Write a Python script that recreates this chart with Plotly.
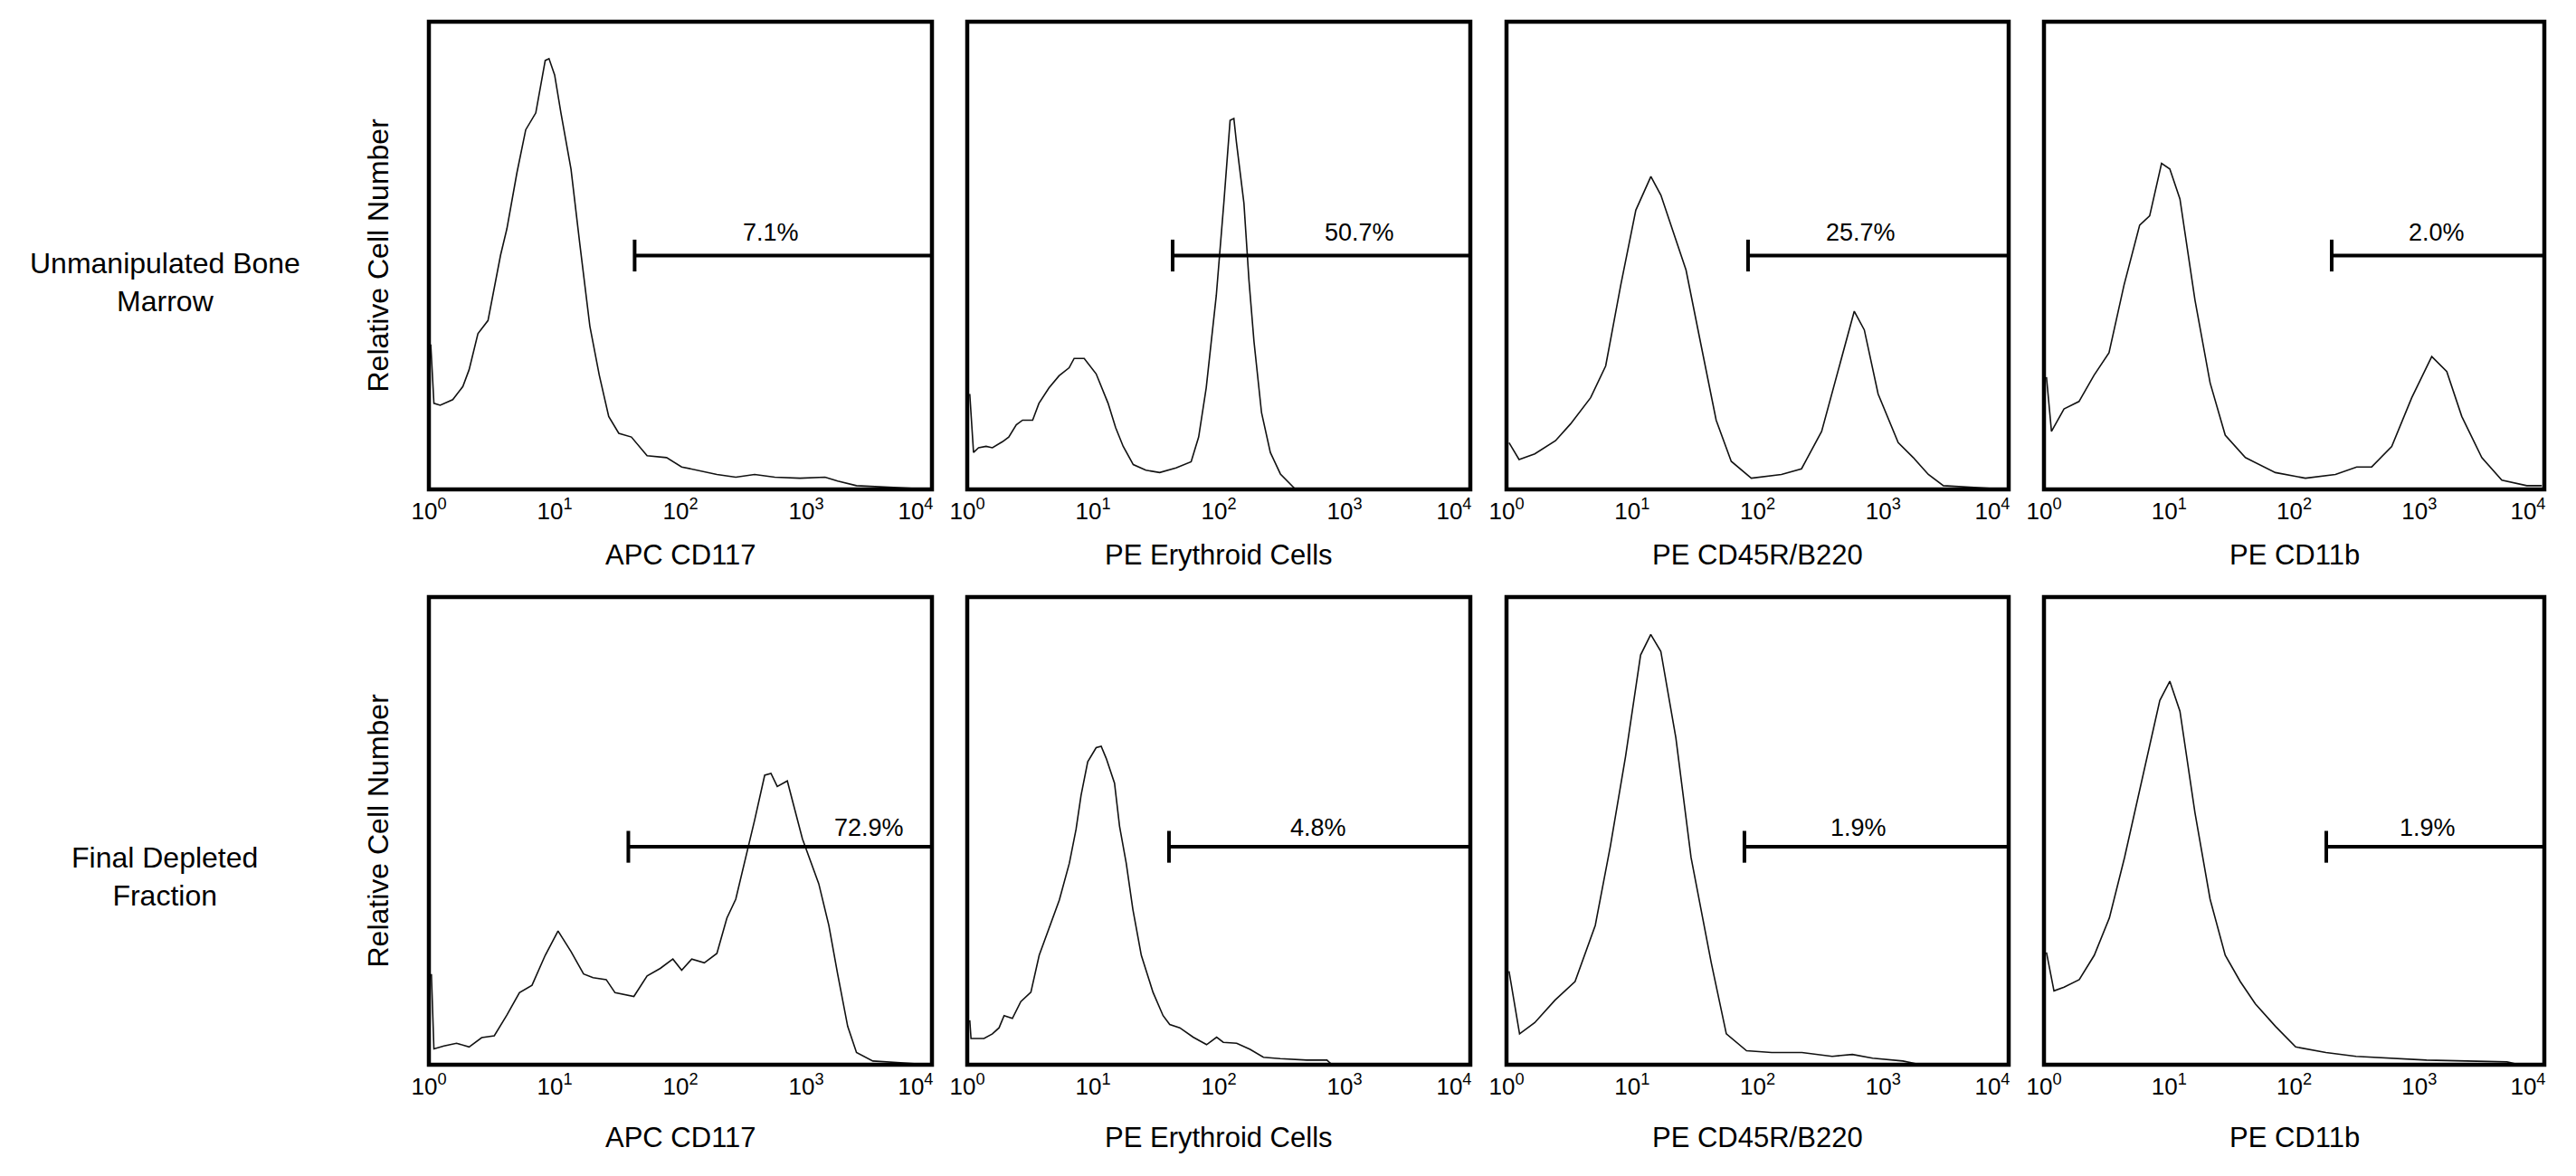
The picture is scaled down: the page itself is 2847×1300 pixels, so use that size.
import plotly.graph_objects as go

# ---------------- data ----------------
markers = ["APC CD117", "PE Erythroid Cells", "PE CD45R/B220", "PE CD11b"]
row_labels = ["Unmanipulated Bone<br>Marrow", "Final Depleted<br>Fraction"]
y_title = "Relative Cell Number"
tick_vals = [1, 10, 100, 1000, 10000]
tick_text = ["10<sup>0</sup>", "10<sup>1</sup>", "10<sup>2</sup>", "10<sup>3</sup>",
             "10<sup>4</sup>" + "\u00a0" * 5]

# Unmanipulated bone marrow: log10 fluorescence intensity and relative cell number
bm_cd117_log = [0.015, 0.04, 0.09, 0.19, 0.27, 0.32, 0.39, 0.47, 0.57, 0.62, 0.70, 0.77, 0.85, 0.925, 0.955,
                1.0, 1.05, 1.13, 1.20, 1.28, 1.355, 1.43, 1.51, 1.61, 1.735, 1.89, 2.01, 2.14, 2.29, 2.44,
                2.59, 2.75, 2.95, 3.15, 3.25, 3.40, 3.66, 4.0]
bm_cd117_cnt = [0.31, 0.184, 0.18, 0.192, 0.22, 0.256, 0.333, 0.361, 0.501, 0.557, 0.677, 0.769, 0.805, 0.917, 0.921,
                0.886, 0.805, 0.685, 0.525, 0.349, 0.244, 0.156, 0.12, 0.112, 0.072, 0.068, 0.048, 0.04, 0.032, 0.026,
                0.032, 0.026, 0.024, 0.026, 0.018, 0.008, 0.004, 0.0]

bm_ery_log = [0.02, 0.05, 0.09, 0.15, 0.20, 0.28, 0.33, 0.39, 0.44, 0.52, 0.57, 0.65, 0.73, 0.81, 0.85, 0.93,
              1.025, 1.12, 1.18, 1.24, 1.32, 1.42, 1.53, 1.66, 1.78, 1.84, 1.90, 1.98, 2.04, 2.09, 2.12, 2.14,
              2.20, 2.24, 2.28, 2.34, 2.41, 2.49, 2.60, 4.0]
bm_ery_cnt = [0.204, 0.079, 0.089, 0.092, 0.089, 0.102, 0.112, 0.138, 0.148, 0.148, 0.184, 0.217, 0.243, 0.26,
              0.28, 0.28, 0.247, 0.184, 0.132, 0.092, 0.053, 0.041, 0.036, 0.046, 0.059, 0.112, 0.217, 0.414,
              0.612, 0.789, 0.793, 0.743, 0.612, 0.447, 0.316, 0.164, 0.079, 0.033, 0.003, 0.0]

bm_b220_log = [0.02, 0.10, 0.225, 0.39, 0.51, 0.67, 0.79, 0.91, 1.03, 1.15, 1.23, 1.43, 1.55, 1.67, 1.79, 1.95,
               2.19, 2.35, 2.51, 2.675, 2.77, 2.85, 2.96, 3.12, 3.24, 3.36, 3.48, 4.0]
bm_b220_cnt = [0.10, 0.064, 0.076, 0.104, 0.14, 0.196, 0.264, 0.437, 0.597, 0.669, 0.629, 0.469, 0.308, 0.148,
               0.06, 0.024, 0.032, 0.044, 0.124, 0.284, 0.381, 0.341, 0.204, 0.10, 0.068, 0.032, 0.008, 0.0]

bm_cd11b_log = [0.02, 0.06, 0.16, 0.28, 0.40, 0.52, 0.64, 0.765, 0.845, 0.94, 1.006, 1.087, 1.207, 1.328, 1.449,
                1.61, 1.85, 2.09, 2.33, 2.50, 2.62, 2.78, 2.94, 3.10, 3.22, 3.34, 3.50, 3.66, 3.86, 3.98]
bm_cd11b_cnt = [0.24, 0.124, 0.172, 0.188, 0.244, 0.292, 0.437, 0.565, 0.585, 0.697, 0.685, 0.621, 0.405, 0.228,
                0.116, 0.068, 0.036, 0.024, 0.032, 0.048, 0.048, 0.092, 0.196, 0.284, 0.252, 0.156, 0.068, 0.02,
                0.008, 0.008]

# Final depleted fraction
fd_cd117_log = [0.02, 0.04, 0.12, 0.22, 0.32, 0.42, 0.52, 0.62, 0.72, 0.82, 0.925, 1.027, 1.13, 1.23, 1.305, 1.41,
                1.48, 1.63, 1.735, 1.84, 1.94, 2.01, 2.09, 2.19, 2.29, 2.37, 2.44, 2.52, 2.59, 2.67, 2.72, 2.77,
                2.85, 2.90, 2.97, 3.10, 3.18, 3.25, 3.33, 3.40, 3.53, 4.0]
fd_cd117_cnt = [0.194, 0.034, 0.04, 0.046, 0.038, 0.058, 0.062, 0.106, 0.154, 0.17, 0.234, 0.286, 0.242, 0.194,
                0.186, 0.182, 0.154, 0.146, 0.19, 0.206, 0.226, 0.202, 0.226, 0.218, 0.238, 0.314, 0.354, 0.443,
                0.523, 0.619, 0.623, 0.595, 0.607, 0.555, 0.483, 0.387, 0.298, 0.194, 0.082, 0.026, 0.008, 0.0]

fd_ery_log = [0.02, 0.03, 0.066, 0.133, 0.20, 0.253, 0.293, 0.359, 0.426, 0.506, 0.572, 0.652, 0.732, 0.812,
              0.865, 0.905, 0.958, 1.025, 1.065, 1.105, 1.171, 1.211, 1.264, 1.317, 1.384, 1.477, 1.557, 1.61,
              1.69, 1.796, 1.903, 1.983, 2.036, 2.142, 2.249, 2.355, 2.488, 2.70, 2.86, 2.90, 4.0]
fd_ery_cnt = [0.095, 0.056, 0.056, 0.056, 0.066, 0.079, 0.105, 0.099, 0.135, 0.155, 0.234, 0.293, 0.352, 0.431,
              0.503, 0.576, 0.648, 0.678, 0.681, 0.655, 0.602, 0.51, 0.431, 0.332, 0.234, 0.155, 0.105, 0.086,
              0.079, 0.059, 0.043, 0.059, 0.048, 0.046, 0.033, 0.016, 0.013, 0.01, 0.01, 0.0, 0.0]

fd_b220_log = [0.02, 0.104, 0.225, 0.386, 0.546, 0.707, 0.827, 0.948, 1.068, 1.149, 1.229, 1.349, 1.47, 1.631,
               1.751, 1.912, 2.112, 2.353, 2.594, 2.755, 2.916, 3.157, 3.3, 4.0]
fd_b220_cnt = [0.2, 0.066, 0.09, 0.138, 0.178, 0.298, 0.467, 0.659, 0.876, 0.92, 0.884, 0.699, 0.443, 0.218,
               0.066, 0.03, 0.026, 0.026, 0.018, 0.022, 0.014, 0.008, 0.0, 0.0]

fd_cd11b_log = [0.02, 0.08, 0.161, 0.282, 0.402, 0.523, 0.644, 0.805, 0.926, 1.006, 1.087, 1.207, 1.328, 1.449,
                1.569, 1.69, 1.851, 2.012, 2.254, 2.495, 2.736, 3.058, 3.38, 3.702, 3.8, 4.0]
fd_cd11b_cnt = [0.24, 0.158, 0.166, 0.182, 0.234, 0.314, 0.443, 0.635, 0.779, 0.82, 0.756, 0.539, 0.354, 0.234,
                0.178, 0.13, 0.082, 0.038, 0.026, 0.018, 0.014, 0.01, 0.008, 0.006, 0.0, 0.0]

# gates: lower threshold (log10 intensity) and percent positive
gate_bm_log = [1.636, 1.633, 1.924, 2.30]
gate_fd_log = [1.586, 1.604, 1.895, 2.257]
pct_bm = ["7.1%", "50.7%", "25.7%", "2.0%"]
pct_fd = ["72.9%", "4.8%", "1.9%", "1.9%"]

# ---------------- layout constants ----------------
W, H = 2847, 1300
FONT = "Liberation Sans, Arial, Helvetica, sans-serif"
x_px = [(474, 1030), (1069, 1625), (1665, 2220), (2259, 2812)]
y_px = [(24, 541), (660, 1177)]  # top, bottom in pixels from top
gate_y = [0.50, 0.466]
label_y = [0.549, 0.507]
label_x = [[2.72, 3.12, 2.82, 3.14], [3.50, 2.79, 2.80, 3.07]]
row_label_y = [312, 969]
title_shift = [-72, -80]

series = [
    [(bm_cd117_log, bm_cd117_cnt), (bm_ery_log, bm_ery_cnt), (bm_b220_log, bm_b220_cnt), (bm_cd11b_log, bm_cd11b_cnt)],
    [(fd_cd117_log, fd_cd117_cnt), (fd_ery_log, fd_ery_cnt), (fd_b220_log, fd_b220_cnt), (fd_cd11b_log, fd_cd11b_cnt)],
]
gates = [gate_bm_log, gate_fd_log]
pcts = [pct_bm, pct_fd]

fig = go.Figure()
layout = dict(
    width=W, height=H, autosize=False, margin=dict(l=0, r=0, t=0, b=0, pad=0, autoexpand=False),
    paper_bgcolor="white", plot_bgcolor="white", showlegend=False,
    font=dict(family=FONT, color="black"),
)
annotations = []
shapes = []

for r in range(2):
    for c in range(4):
        i = r * 4 + c + 1
        xa = "x" if i == 1 else f"x{i}"
        ya = "y" if i == 1 else f"y{i}"
        logs, cnts = series[r][c]
        fig.add_trace(go.Scatter(
            x=[10 ** v for v in logs], y=cnts, mode="lines",
            line=dict(color="#111111", width=1.6, shape="linear"),
            xaxis=xa, yaxis=ya, hoverinfo="skip"))
        g = 10 ** gates[r][c]
        gy = gate_y[r]
        fig.add_trace(go.Scatter(
            x=[g, g, None, g, 10 ** 4], y=[gy - 0.034, gy + 0.034, None, gy, gy], mode="lines",
            line=dict(color="black", width=4), xaxis=xa, yaxis=ya, hoverinfo="skip"))

        x0, x1 = x_px[c]
        yt, yb = y_px[r]
        layout["xaxis" if i == 1 else f"xaxis{i}"] = dict(
            domain=[x0 / W, x1 / W], anchor=ya, type="log", range=[0, 4], automargin=False,
            tickvals=tick_vals, ticktext=tick_text, ticks="", showgrid=False, zeroline=False,
            showline=False, tickfont=dict(family=FONT, size=26, color="black"),
            ticklabelstandoff=6, ticklabeloverflow="allow", fixedrange=True)
        layout["yaxis" if i == 1 else f"yaxis{i}"] = dict(
            domain=[(H - yb) / H, (H - yt) / H], anchor=xa, range=[0, 1], automargin=False,
            showticklabels=False, showgrid=False, zeroline=False, showline=False, ticks="",
            fixedrange=True)
        shapes.append(dict(type="rect", xref=f"{xa} domain", yref=f"{ya} domain",
                           x0=0, x1=1, y0=0, y1=1, line=dict(color="black", width=4.5),
                           fillcolor="rgba(0,0,0,0)", layer="above"))
        # percent label
        annotations.append(dict(x=label_x[r][c], y=label_y[r], xref=xa, yref=ya, text=pcts[r][c],
                                showarrow=False, font=dict(size=27, family=FONT, color="black"),
                                xanchor="center", yanchor="middle"))
        # x title
        annotations.append(dict(x=0.5, y=0, xref=f"{xa} domain", yref=f"{ya} domain", yshift=title_shift[r],
                                text=markers[c], showarrow=False, xanchor="center", yanchor="middle",
                                font=dict(size=31, family=FONT, color="black")))
        if c == 0:
            annotations.append(dict(x=0, y=0.5, xref=f"{xa} domain", yref=f"{ya} domain", xshift=-57,
                                    text=y_title, textangle=-90, showarrow=False,
                                    xanchor="center", yanchor="middle",
                                    font=dict(size=32, family=FONT, color="black")))
    annotations.append(dict(x=182 / W, y=1 - row_label_y[r] / H, xref="paper", yref="paper",
                            text=row_labels[r], showarrow=False, align="center",
                            xanchor="center", yanchor="middle",
                            font=dict(size=32, family=FONT, color="black")))

layout["annotations"] = annotations
layout["shapes"] = shapes
fig.update_layout(**layout)
fig.write_html("out.html")
